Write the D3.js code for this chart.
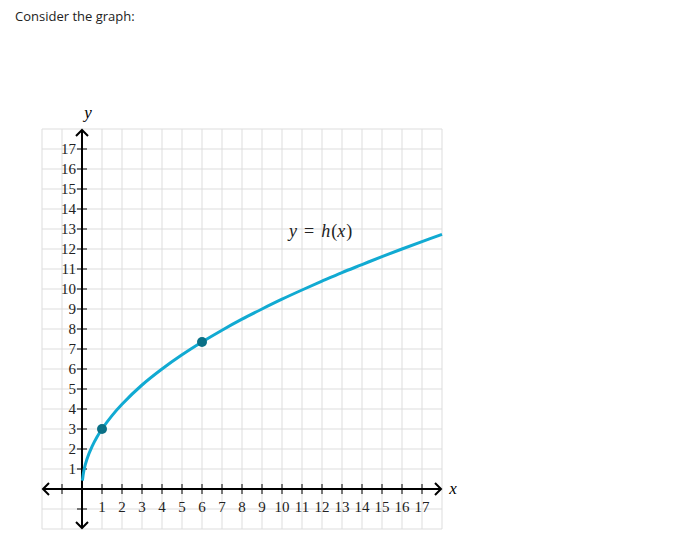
<!DOCTYPE html>
<html><head><meta charset="utf-8">
<script src="https://cdn.jsdelivr.net/npm/d3@7"></script>
<style>body{margin:0;background:#fff}</style>
</head><body>
<svg id="c" width="673" height="538"></svg>
<script>
const title = "Consider the graph:";
const xTicks = d3.range(1, 18);
const yTicks = d3.range(1, 18);
const curveX = [0.02, 0.1, 0.25, 0.5, 0.75, 1, 1.5, 2, 3, 4, 5, 6, 7, 8, 9, 10, 11, 12, 13, 14, 15, 16, 17, 18];
const curveY = [0.42, 0.95, 1.5, 2.12, 2.6, 3, 3.67, 4.24, 5.2, 6, 6.71, 7.35, 7.94, 8.49, 9, 9.49, 9.95, 10.39, 10.82, 11.22, 11.62, 12, 12.37, 12.73];
const pointsX = [1, 6];
const pointsY = [3, 7.35];

const svg = d3.select("#c");
svg.append("text").attr("x", 15).attr("y", 21).attr("font-family", "Open Sans").attr("font-size", 13).attr("fill", "#222").text(title);

const x = d3.scaleLinear().domain([-2, 18]).range([42, 442]);
const y = d3.scaleLinear().domain([-2, 18]).range([529, 129]);

const g = svg.append("g");
g.selectAll(".gx").data(d3.range(-2, 19)).join("line")
  .attr("x1", d => x(d)).attr("x2", d => x(d)).attr("y1", y(-2)).attr("y2", y(18))
  .attr("stroke", "#ddd").attr("stroke-width", 1);
g.selectAll(".gy").data(d3.range(-2, 19)).join("line")
  .attr("y1", d => y(d)).attr("y2", d => y(d)).attr("x1", x(-2)).attr("x2", x(18))
  .attr("stroke", "#ddd").attr("stroke-width", 1);

const ax = svg.append("g").attr("stroke", "#000").attr("stroke-width", 2).attr("fill", "none");
ax.append("line").attr("x1", x(-2) + 1).attr("x2", x(18) - 1).attr("y1", y(0)).attr("y2", y(0));
ax.append("line").attr("y1", y(-2) - 1).attr("y2", y(18) + 1).attr("x1", x(0)).attr("x2", x(0));
const arr = (px, py, rot) => ax.append("path").attr("d", "M-6,-6 L0,0 L-6,6").attr("stroke-linejoin", "miter")
  .attr("transform", `translate(${px},${py}) rotate(${rot})`);
arr(x(18) - 1, y(0), 0); arr(x(-2) + 1, y(0), 180);
arr(x(0), y(18) + 1, -90); arr(x(0), y(-2) - 1, 90);
ax.selectAll(".tx").data([-1].concat(xTicks)).join("line")
  .attr("x1", d => x(d)).attr("x2", d => x(d)).attr("y1", y(0) - 5).attr("y2", y(0) + 5).attr("stroke-width", 1);
ax.selectAll(".ty").data([-1].concat(yTicks)).join("line")
  .attr("y1", d => y(d)).attr("y2", d => y(d)).attr("x1", x(0) - 5).attr("x2", x(0) + 5).attr("stroke-width", 1);

const font = "Liberation Serif";
svg.selectAll(".lx").data(xTicks).join("text")
  .attr("x", d => x(d)).attr("y", y(0) + 23).attr("text-anchor", "middle")
  .attr("font-family", font).attr("font-size", 15).attr("fill", "#222").text(d => d);
svg.selectAll(".ly").data(yTicks).join("text")
  .attr("x", x(0) - 6).attr("y", d => y(d) + 5).attr("text-anchor", "end")
  .attr("font-family", font).attr("font-size", 15).attr("fill", "#222").text(d => d);

svg.append("text").attr("x", x(0) + 6).attr("y", y(18) - 11).attr("text-anchor", "middle")
  .attr("font-family", font).attr("font-style", "italic").attr("font-size", 17).text("y");
svg.append("text").attr("x", x(18) + 11).attr("y", y(0) + 5).attr("text-anchor", "middle")
  .attr("font-family", font).attr("font-style", "italic").attr("font-size", 17).text("x");

const data = curveX.map((d, i) => [d, curveY[i]]);
svg.append("path").datum(data)
  .attr("d", d3.line().x(d => x(d[0])).y(d => y(d[1])).curve(d3.curveCatmullRom))
  .attr("fill", "none").attr("stroke", "#11aad2").attr("stroke-width", 3);
svg.selectAll(".pt").data(pointsX).join("circle")
  .attr("cx", d => x(d)).attr("cy", (d, i) => y(pointsY[i])).attr("r", 5)
  .attr("fill", "#0b7086");

const lab = svg.append("text").attr("x", x(10.35)).attr("y", y(12.6)).attr("font-family", font).attr("font-size", 18).attr("fill", "#222");
lab.append("tspan").attr("font-style", "italic").text("y");
lab.append("tspan").attr("dx", 7).text("=");
lab.append("tspan").attr("dx", 7).attr("font-style", "italic").text("h");
lab.append("tspan").attr("dx", 1).text("(");
lab.append("tspan").attr("font-style", "italic").text("x");
lab.append("tspan").attr("dx", 1).text(")");
</script>
</body></html>
